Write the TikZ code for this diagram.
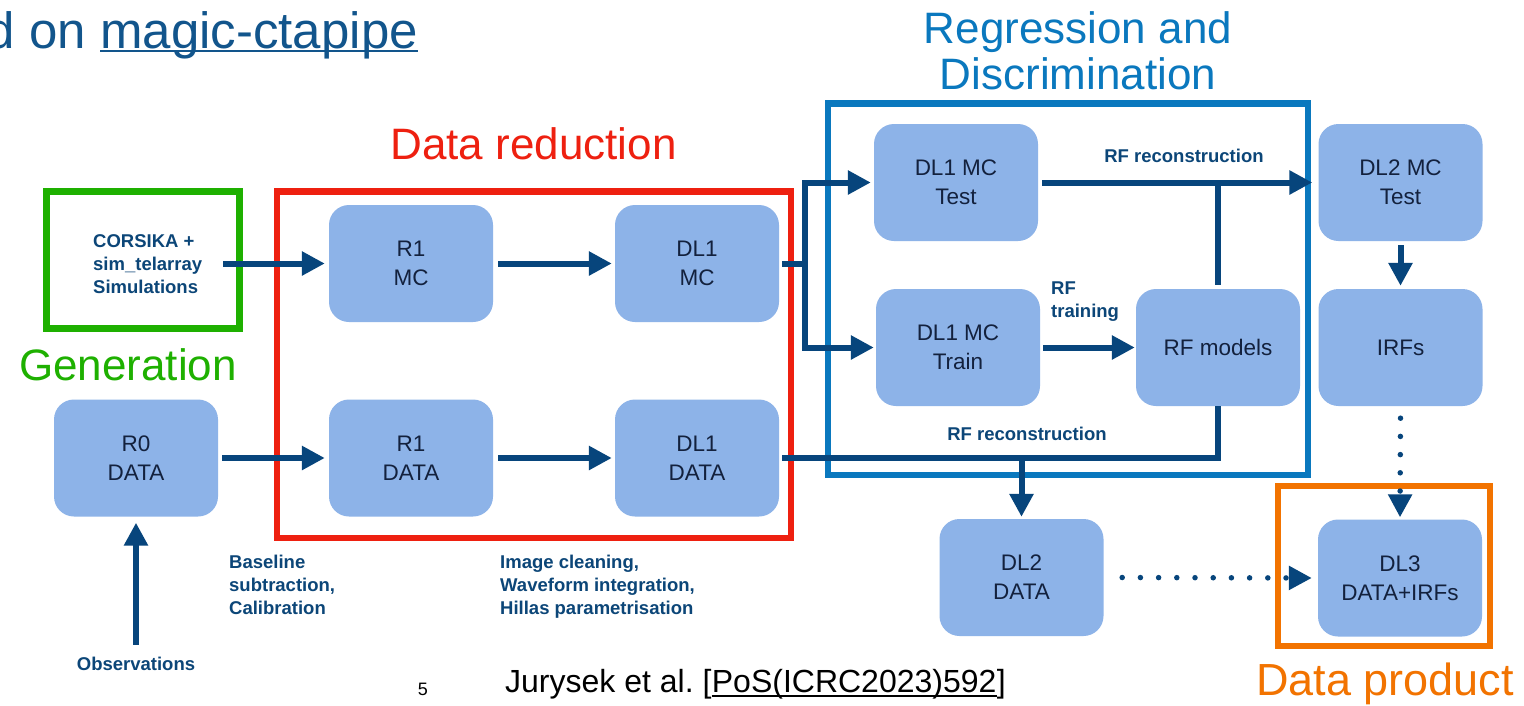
\documentclass[tikz,border=0pt]{standalone}
\usepackage{fontspec}
\setmainfont{Liberation Sans}
\usetikzlibrary{arrows.meta}
\definecolor{boxfill}{HTML}{8DB3E8}
\definecolor{boxtext}{HTML}{13213D}
\definecolor{arrowc}{HTML}{07457C}
\definecolor{labc}{HTML}{0C4678}
\definecolor{headc}{HTML}{12558C}
\definecolor{regblue}{HTML}{0A78BE}
\definecolor{redc}{HTML}{EE2010}
\definecolor{greenc}{HTML}{1EB000}
\definecolor{orangec}{HTML}{F27300}
\frenchspacing
\begin{document}
\begin{tikzpicture}[x=1pt,y=-1pt,
  databox/.style={fill=boxfill, rounded corners=20pt, minimum width=164pt, minimum height=117pt, align=center, text=boxtext, font=\fontsize{22.5}{29}\selectfont, inner sep=0pt},
  zoneframe/.style={line width=6.5pt, inner sep=0pt},
  conn/.style={draw=arrowc, line width=6pt, -{Triangle[length=23pt,width=23pt]}},
  link/.style={draw=arrowc, line width=6pt},
  dotconn/.style={draw=arrowc, line width=5.5pt, line cap=round, dash pattern=on 0pt off 18.2pt, -{Triangle[length=23pt,width=23pt]}},
  lab/.style={text=labc, font=\fontsize{18.5}{23}\selectfont\bfseries, align=left, inner sep=0pt},
  bigtitle/.style={font=\fontsize{44}{46}\selectfont, inner sep=0pt, align=center},
]
\useasboundingbox (0,0) rectangle (1524,705);
\fill[white] (0,0) rectangle (1524,705);

% frames
\node[zoneframe, draw=greenc, minimum width=193pt, minimum height=137pt] (genframe) at (143,260) {};
\node[zoneframe, draw=redc, minimum width=514pt, minimum height=346.5pt] (redframe) at (534,364.75) {};
\node[zoneframe, draw=regblue, minimum width=480pt, minimum height=371.5pt] (regframe) at (1068,289.25) {};
\node[zoneframe, draw=orangec, minimum width=212pt, minimum height=160pt] (prodframe) at (1384,566) {};

% boxes
\node[databox] (r0data) at (136,458) {R0\\DATA};
\node[databox] (r1mc) at (411,263.5) {R1\\MC};
\node[databox] (dl1mc) at (697,263.5) {DL1\\MC};
\node[databox] (r1data) at (411,458) {R1\\DATA};
\node[databox] (dl1data) at (697,458) {DL1\\DATA};
\node[databox] (dl1test) at (956,182.5) {DL1 MC\\Test};
\node[databox] (dl1train) at (958,347.5) {DL1 MC\\Train};
\node[databox] (rfmodels) at (1218,347.5) {RF models};
\node[databox] (dl2test) at (1400.5,182.5) {DL2 MC\\Test};
\node[databox] (irfs) at (1400.5,347.5) {IRFs};
\node[databox] (dl2data) at (1021.5,577.5) {DL2\\DATA};
\node[databox] (dl3) at (1400,578) {DL3\\DATA+IRFs};

% labels
\node[lab, anchor=north west] (corsika) at (93,234.5) {CORSIKA +\\sim\_telarray\\Simulations};
\node[lab, anchor=north west] (baselab) at (229,555) {Baseline\\subtraction,\\Calibration};
\node[lab, anchor=north west] (imglab) at (500,555) {Image cleaning,\\Waveform integration,\\Hillas parametrisation};
\node[lab, anchor=base] (obs) at (136,670.5) {Observations};
\node[lab, anchor=base] (rfrec1) at (1184,162) {RF reconstruction};
\node[lab, anchor=base] (rfrec2) at (1027,440) {RF reconstruction};
\node[lab, anchor=north west] (rftrain) at (1051,281.5) {RF\\training};

% connectors
\coordinate (split) at (805,263.5);
\path ([xshift=21pt]corsika.east) coordinate (cstart);
\draw[conn] (cstart |- r1mc.west) -- ([xshift=-4pt]r1mc.west);
\draw[conn] ([xshift=4pt]r0data.east) -- ([xshift=-4pt]r1data.west);
\draw[conn] ([xshift=5pt]r1mc.east) -- ([xshift=-3pt]dl1mc.west);
\draw[conn] ([xshift=5pt]r1data.east) -- ([xshift=-3pt]dl1data.west);
\draw[conn] ([xshift=3pt]dl1mc.east) -- (split) |- ([xshift=-3pt]dl1test.west);
\draw[conn] (split) |- ([xshift=-2pt]dl1train.west);
\draw[conn] ([xshift=4pt]dl1test.east) -- ([xshift=-6pt]dl2test.west);
\draw[link] ([yshift=4pt]rfmodels.north) -- (rfmodels.north |- dl1test.east);
\draw[conn] ([xshift=3pt]dl1train.east) -- ([xshift=-1pt]rfmodels.west);
\draw[link] ([xshift=3pt]dl1data.east) -- (dl1data.east -| rfmodels.south) -- (rfmodels.south);
\draw[conn] (dl1data.east -| dl2data.north) -- ([yshift=2pt]dl2data.north);
\draw[conn] ([yshift=-4pt]dl2test.south) -- ([yshift=3pt]irfs.north);
\draw[dotconn] ([yshift=-12pt]irfs.south) -- ([yshift=2pt]dl3.north);
\draw[dotconn] ([xshift=18.5pt]dl2data.east) -- ([xshift=-6pt]dl3.west);
\draw[conn] ([yshift=12pt]obs.north) -- ([yshift=-6pt]r0data.south);

% titles
\node[bigtitle, text=regblue, anchor=north] (regtitle) at (1078,11) {Regression and\\Discrimination};
\node[bigtitle, text=redc, anchor=base] (redtitle) at (533.5,159) {Data reduction};
\node[bigtitle, text=greenc, anchor=base] (gentitle) at (128,380) {Generation};
\node[bigtitle, text=orangec, anchor=base, font=\fontsize{45}{46}\selectfont] (prodtitle) at (1385,695) {Data product};

% header
\node[anchor=base east, inner sep=0pt, text=headc, font=\fontsize{51}{55}\selectfont] (magic) at (418,48) {magic-ctapipe};
\node[anchor=base east, inner sep=0pt, text=headc, font=\fontsize{51}{55}\selectfont] (don) at ([xshift=-14pt]magic.base west) {d on};
\draw[headc, line width=2.2pt] ([yshift=-3pt]magic.base west) -- ([yshift=-3pt]magic.base east);

% citation
\node[anchor=base west, inner sep=0pt, font=\fontsize{32}{36}\selectfont, text=black] (cite) at (505,692) {Jurysek et al. [};
\node[anchor=base west, inner sep=0pt, font=\fontsize{32}{36}\selectfont, text=black] (pos) at (cite.base east) {PoS(ICRC2023)592};
\node[anchor=base west, inner sep=0pt, font=\fontsize{32}{36}\selectfont, text=black] (citeend) at (pos.base east) {]};
\draw[black, line width=1.5pt] ([yshift=-4pt]pos.base west) -- ([yshift=-4pt]pos.base east);
\node[anchor=base, inner sep=0pt, font=\fontsize{18}{20}\selectfont, text=black] (pagenum) at (423,695) {5};
\end{tikzpicture}
\end{document}
